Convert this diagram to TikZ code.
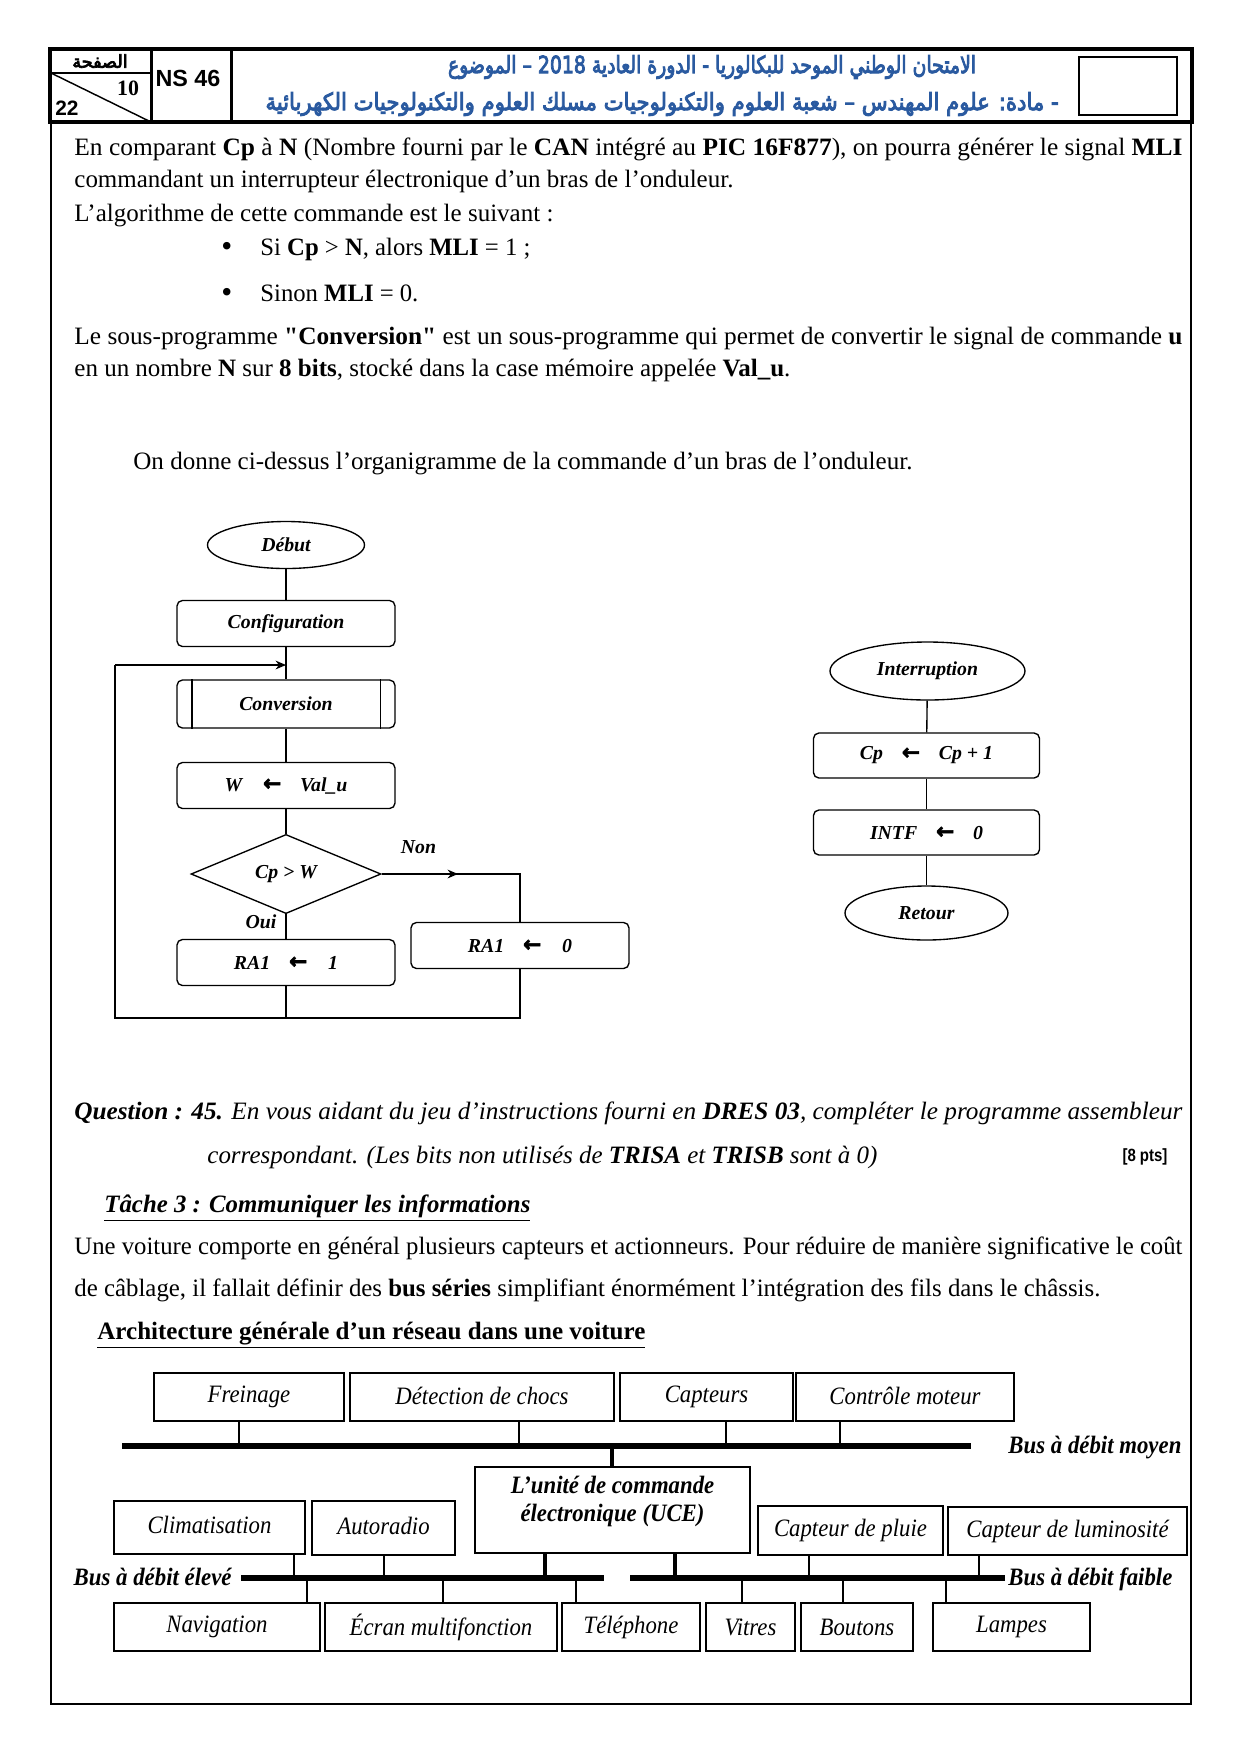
\documentclass[tikz,border=0pt]{standalone}
\usepackage{fontspec}
\usepackage{graphicx}
\setmainfont{Liberation Serif}
\newfontfamily\rawserif[Ligatures=TeXOff]{Liberation Serif}
\newfontfamily\arialf{Liberation Sans}
\newfontfamily\arabicfont[Script=Arabic,FakeBold=4]{DejaVu Sans}
\newfontfamily\arrowfont[FakeBold=2.5]{DejaVu Sans}
\newfontfamily\condserif[FakeStretch=0.91]{Liberation Serif}
\TeXXeTstate=1
\usetikzlibrary{arrows.meta,shapes.geometric}
\newlength\px \setlength\px{0.48pt}
\newcommand\fitw[2]{\resizebox{#1\px}{\height}{#2}}
\newcommand\arr{\raisebox{0.2pt}{\fontsize{10.5}{11}\selectfont\arrowfont ←}}
\newcommand\fcfont{\fontsize{9.5}{11}\selectfont\bfseries\itshape}
\newcommand\sq{{\rawserif\bfseries "}}
\definecolor{hblue}{HTML}{2A5AA0}
\begin{document}
\begin{tikzpicture}[x=0.48pt,y=-0.48pt,
  tl/.style={anchor=base west,inner sep=0pt,font=\fontsize{12}{14}\selectfont},
  fcbox/.style={draw,line width=0.65pt,rounded corners=2.6pt,minimum width={218*0.48pt},minimum height={46*0.48pt},inner sep=0pt,font=\fcfont},
  fcell/.style={draw,ellipse,line width=0.65pt,inner sep=0pt,font=\fcfont},
  fline/.style={line width=0.65pt},
  farrow/.style={line width=0.65pt,-{Stealth[length=5pt,width=4.2pt]}},
  nbox/.style={draw,line width=0.75pt,inner sep=0pt,font=\fontsize{12}{14}\selectfont\condserif\itshape},
  bus/.style={line width=2.9pt},
  tap/.style={line width=0.6pt},
  ucetap/.style={line width=1.9pt},
  buslbl/.style={inner sep=0pt,font=\fontsize{12}{14}\selectfont\bfseries\itshape},
]
\fill[white] (0,0) rectangle (1241,1755);
\useasboundingbox (0,0) rectangle (1241,1755);

% ---------- header ----------
\draw[line width=0.75pt] (51,122) -- (51,1704) -- (1191,1704) -- (1191,122);
\draw[line width=1.5pt] (50,49) rectangle (1192,122);
\draw[line width=1.4pt] (151.5,49) -- (151.5,122);
\draw[line width=1.4pt] (231.5,49) -- (231.5,122);
\draw[line width=1.2pt] (50,73) -- (151.5,73);
\draw[line width=0.7pt] (51,73) -- (151,122);
\draw[line width=0.8pt] (1079,57) rectangle (1177,115);
\node[inner sep=0pt] (pg) at (100,61) {\fontsize{8.5}{9}\selectfont\arabicfont\beginR الصفحة\endR};
\node[inner sep=0pt] (p10) at (128,88) {\fontsize{10.5}{12}\selectfont\bfseries 10};
\node[inner sep=0pt] (p22) at (67,108) {\fontsize{10}{12}\selectfont\arialf\bfseries 22};
\node[inner sep=0pt] (ns) at (188,78) {\fontsize{11.2}{13}\selectfont\arialf\bfseries NS 46};
\node[inner sep=0pt,text=hblue] (h1) at (712,67) {\resizebox{528\px}{18\px}{\arabicfont\beginR الامتحان الوطني الموحد للبكالوريا - الدورة العادية \beginL 2018\endL{} – الموضوع\endR}};
\node[inner sep=0pt,text=hblue] (h2) at (662,104) {\resizebox{793\px}{18\px}{\arabicfont\beginR - مادة: علوم المهندس – شعبة العلوم والتكنولوجيات مسلك العلوم والتكنولوجيات الكهربائية\endR}};

% ---------- body text ----------
\node[tl] (t1) at (74,155) {\fitw{1108}{En comparant \textbf{Cp} à \textbf{N} (Nombre fourni par le \textbf{CAN} intégré au \textbf{PIC 16F877}), on pourra générer le signal \textbf{MLI}}};
\node[tl] (t2) at (74,187) {\fitw{659}{commandant un interrupteur électronique d’un bras de l’onduleur.}};
\node[tl] (t3) at (74,221) {\fitw{479}{L’algorithme de cette commande est le suivant :}};
\node[tl,font=\fontsize{15}{15}\selectfont] (bu1) at (221,256) {•};
\node[tl] (b1) at (260,255) {\fitw{270}{Si \textbf{Cp} > \textbf{N}, alors \textbf{MLI} = 1 ;}};
\node[tl,font=\fontsize{15}{15}\selectfont] (bu2) at (221,302) {•};
\node[tl] (b2) at (260,301) {\fitw{158}{Sinon \textbf{MLI} = 0.}};
\node[tl] (t4) at (74,344) {\fitw{1108}{Le sous-programme \sq\textbf{Conversion}\sq{} est un sous-programme qui permet de convertir le signal de commande \textbf{u}}};
\node[tl] (t5) at (74,376) {\fitw{716}{en un nombre \textbf{N} sur \textbf{8 bits}, stocké dans la case mémoire appelée \textbf{Val\_u}.}};
\node[tl] (t6) at (133,469) {\fitw{779}{On donne ci-dessus l’organigramme de la commande d’un bras de l’onduleur.}};

% ---------- main flowchart ----------
\node[fcell,minimum width={157*0.48pt},minimum height={47*0.48pt}] (debut) at (286,545) {Début};
\node[fcbox] (config) at (286,623.5) {Configuration};
\node[fcbox,minimum height={48*0.48pt}] (conv) at (286,704) {Conversion};
\draw[fline] ([shift={(15.5,0)}]conv.north west) -- ([shift={(15.5,0)}]conv.south west);
\draw[fline] ([shift={(-15.5,0)}]conv.north east) -- ([shift={(-15.5,0)}]conv.south east);
\node[fcbox] (wval) at (286,785.5) {W\hspace{10pt}\arr\hspace{9pt}Val\_u};
\node[draw,diamond,line width=0.65pt,inner sep=0pt,minimum width={190*0.48pt},minimum height={76*0.48pt},font=\fcfont] (dec) at (286,874) {Cp > W};
\node[fcbox] (ra1) at (286,962.5) {RA1\hspace{9pt}\arr\hspace{10pt}1};
\node[fcbox] (ra0) at (520,945.5) {RA1\hspace{9pt}\arr\hspace{10pt}0};
\node[inner sep=0pt,font=\fcfont] (non) at (418.5,847) {Non};
\node[inner sep=0pt,font=\fcfont] (oui) at (261,922) {Oui};

\coordinate (jn) at (286,665);
\coordinate (tl) at (115,665);
\coordinate (bl) at (115,1018);
\coordinate (nonarr) at (458,874);

\draw[fline] (debut) -- (config);
\draw[fline] (config) -- (conv);
\draw[fline] (conv) -- (wval);
\draw[fline] (wval) -- (dec);
\draw[fline] (dec) -- (ra1);
\draw[fline] (dec.east) -| (ra0.north);
\draw[farrow] (dec.east) -- (nonarr);
\draw[fline] (ra0.south) |- (bl) -- (tl);
\draw[farrow] (tl) -- (jn);
\draw[fline] (ra1.south) -- (ra1.south |- bl);

% ---------- interrupt flowchart ----------
\node[fcell,minimum width={195*0.48pt},minimum height={58*0.48pt}] (intr) at (927.5,671) {Interruption};
\node[fcbox,minimum width={226*0.48pt},minimum height={45*0.48pt}] (cpinc) at (926.5,755.5) {Cp\hspace{9pt}\arr\hspace{9pt}Cp + 1};
\node[fcbox,minimum width={226*0.48pt},minimum height={45*0.48pt}] (intf) at (926.5,832.5) {INTF\hspace{9pt}\arr\hspace{9pt}0};
\node[fcell,minimum width={163*0.48pt},minimum height={54*0.48pt}] (ret) at (926.5,913) {Retour};
\draw[fline] (intr) -- (cpinc);
\draw[fline] (cpinc) -- (intf);
\draw[fline] (intf) -- (ret);

% ---------- question text ----------
\node[tl] (q1) at (74,1119) {\fitw{1108}{\itshape\textbf{Question : 45.} En vous aidant du jeu d’instructions fourni en \textbf{DRES 03}, compléter le programme assembleur}};
\node[tl] (q2) at (207,1163) {\fitw{670}{\itshape correspondant. (Les bits non utilisés de \textbf{TRISA} et \textbf{TRISB} sont à 0)}};
\node[inner sep=0pt] (pts) at (1145,1157) {\resizebox{45\px}{\height}{\fontsize{8.5}{10}\selectfont\arialf\bfseries [8 pts]}};
\node[tl] (tache) at (104,1212) {\fitw{426}{\bfseries\itshape\underline{Tâche 3 : Communiquer les informations}}};
\node[tl] (v1) at (74,1254) {\fitw{1108}{Une voiture comporte en général plusieurs capteurs et actionneurs. Pour réduire de manière significative le coût}};
\node[tl] (v2) at (74,1296) {\fitw{1026}{de câblage, il fallait définir des \textbf{bus séries} simplifiant énormément l'intégration des fils dans le châssis.}};
\node[tl] (arch) at (97,1339) {\fitw{548}{\bfseries\underline{Architecture générale d’un réseau dans une voiture}}};

% ---------- network diagram ----------
\node[nbox,minimum width={190*0.48pt},minimum height={48*0.48pt}] (frein) at (249,1397) {Freinage};
\node[nbox,minimum width={264*0.48pt},minimum height={48*0.48pt}] (detect) at (482,1397) {\raisebox{2\px}{Détection de chocs}};
\node[nbox,minimum width={173*0.48pt},minimum height={48*0.48pt}] (capt) at (706.5,1397) {Capteurs};
\node[nbox,minimum width={218*0.48pt},minimum height={48*0.48pt}] (ctrl) at (905,1397) {\raisebox{2\px}{Contrôle moteur}};

\coordinate (bmL) at (122,1446);
\coordinate (bmR) at (971,1446);
\draw[bus] (bmL) -- (bmR);
\node[buslbl,anchor=base west] (lbm) at (1008,1453) {\resizebox{173\px}{\height}{Bus à débit moyen}};

\coordinate (c1) at (239,1446);
\coordinate (c2) at (519,1446);
\coordinate (c3) at (726,1446);
\coordinate (c4) at (840,1446);
\draw[tap] (c1) -- (c1 |- frein.south);
\draw[tap] (c2) -- (c2 |- detect.south);
\draw[tap] (c3) -- (c3 |- capt.south);
\draw[tap] (c4) -- (c4 |- ctrl.south);

\node[draw,line width=1.2pt,minimum width={275*0.48pt},minimum height={86*0.48pt},inner sep=0pt] (uce) at (612.5,1510) {};
\node[inner sep=0pt,align=center,font=\fontsize{12}{13.4}\selectfont\condserif\bfseries\itshape] (ucet) at (612.5,1501) {L’unité de commande\\électronique (UCE)};
\coordinate (cu) at (612,1446);
\draw[ucetap] (cu) -- (cu |- uce.north);

\node[nbox,minimum width={191*0.48pt},minimum height={53*0.48pt}] (clim) at (209.5,1527.5) {\raisebox{5\px}{Climatisation}};
\node[nbox,minimum width={143*0.48pt},minimum height={54*0.48pt}] (auto) at (383.5,1528) {\raisebox{5\px}{Autoradio}};
\node[nbox,minimum width={185*0.48pt},minimum height={49*0.48pt}] (pluie) at (850.5,1530.5) {Capteur de pluie};
\node[nbox,minimum width={239*0.48pt},minimum height={48*0.48pt}] (lumi) at (1067.5,1531) {Capteur de luminosité};

\coordinate (beL) at (241,1578);
\coordinate (beR) at (604,1578);
\coordinate (bfL) at (630,1578);
\coordinate (bfR) at (1005,1578);
\draw[bus] (beL) -- (beR);
\draw[bus] (bfL) -- (bfR);
\node[buslbl,anchor=base east] (lbe) at (232,1585) {\resizebox{158\px}{\height}{Bus à débit élevé}};
\node[buslbl,anchor=base west] (lbf) at (1008,1585) {\resizebox{164\px}{\height}{Bus à débit faible}};

\coordinate (u1) at (545,1578);
\coordinate (u2) at (675,1578);
\draw[ucetap] (u1) -- (u1 |- uce.south);
\draw[ucetap] (u2) -- (u2 |- uce.south);

\coordinate (m1) at (294,1578);
\coordinate (m2) at (384,1578);
\coordinate (m3) at (809,1578);
\coordinate (m4) at (979,1578);
\draw[tap] (m1) -- (m1 |- clim.south);
\draw[tap] (m2) -- (m2 |- auto.south);
\draw[tap] (m3) -- (m3 |- pluie.south);
\draw[tap] (m4) -- (m4 |- lumi.south);

\node[nbox,minimum width={206*0.48pt},minimum height={48*0.48pt}] (nav) at (217,1627) {Navigation};
\node[nbox,minimum width={232*0.48pt},minimum height={48*0.48pt}] (ecran) at (441,1627) {Écran multifonction};
\node[nbox,minimum width={138*0.48pt},minimum height={48*0.48pt}] (tel) at (631,1627) {Téléphone};
\node[nbox,minimum width={89*0.48pt},minimum height={48*0.48pt}] (vitres) at (750.5,1627) {Vitres};
\node[nbox,minimum width={112*0.48pt},minimum height={48*0.48pt}] (boutons) at (857,1627) {Boutons};
\node[nbox,minimum width={157*0.48pt},minimum height={48*0.48pt}] (lampes) at (1011.5,1627) {Lampes};

\coordinate (d1) at (307,1578);
\coordinate (d2) at (443,1578);
\coordinate (d3) at (576,1578);
\coordinate (d4) at (742,1578);
\coordinate (d5) at (843,1578);
\coordinate (d6) at (946,1578);
\draw[tap] (d1) -- (d1 |- nav.north);
\draw[tap] (d2) -- (d2 |- ecran.north);
\draw[tap] (d3) -- (d3 |- tel.north);
\draw[tap] (d4) -- (d4 |- vitres.north);
\draw[tap] (d5) -- (d5 |- boutons.north);
\draw[tap] (d6) -- (d6 |- lampes.north);
\end{tikzpicture}
\end{document}
